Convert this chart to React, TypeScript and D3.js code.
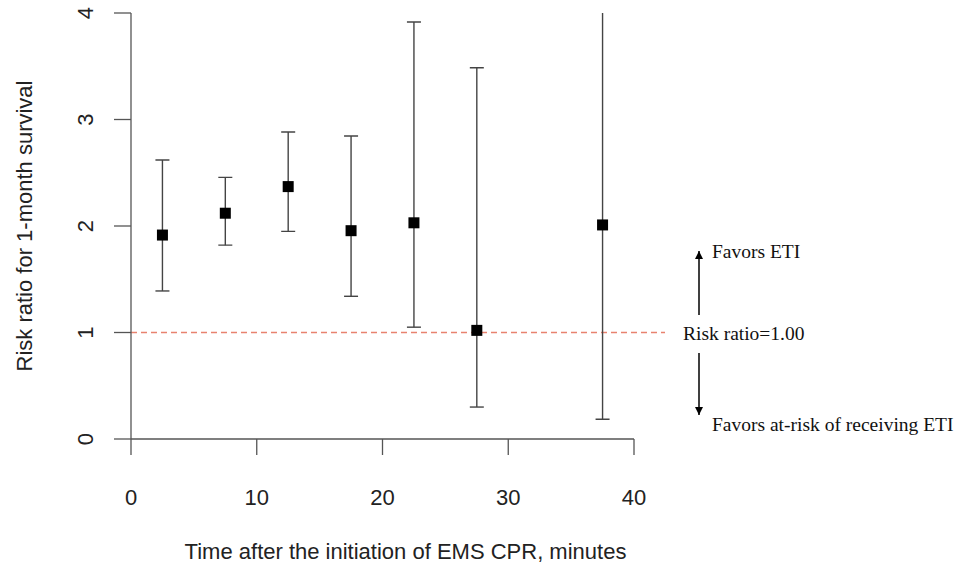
import React from "react";
import * as d3 from "d3";

// Risk ratio estimates with 95% confidence limits by time interval
const timePoints = [2.5, 7.5, 12.5, 17.5, 22.5, 27.5, 37.5];
const riskRatio = [1.915, 2.12, 2.37, 1.956, 2.03, 1.02, 2.01];
const lowerCI = [1.39, 1.82, 1.95, 1.34, 1.05, 0.3, 0.185];
const upperCI = [2.62, 2.457, 2.883, 2.845, 3.915, 3.486, 4.4];

const xTicks = [0, 10, 20, 30, 40];
const yTicks = [0, 1, 2, 3, 4];

const xTitle = "Time after the initiation of EMS CPR, minutes";
const yTitle = "Risk ratio for 1-month survival";
const refValue = 1;
const refLabel = "Risk ratio=1.00";
const upLabel = "Favors ETI";
const downLabel = "Favors at-risk of receiving ETI";

const W = 962;
const H = 569;

export default function App() {
  const x = d3.scaleLinear().domain([0, 40]).range([131, 634]);
  const y = d3.scaleLinear().domain([0, 4]).range([439, 13]);

  const axisColor = "#555";
  const barColor = "#444";
  const sans = "'Liberation Sans', Arial, sans-serif";
  const serif = "'Liberation Serif', 'Times New Roman', serif";
  const capHalf = 7;
  const sq = 11;

  const refEnd = x.invert(665);

  return (
    <svg
      width={W}
      height={H}
      style={{ position: "absolute", left: 0, top: 0, background: "#fff" }}
    >
      <defs>
        <clipPath id="plotArea">
          <rect x={x(0) - 20} y={y(4)} width={x(44) - x(0) + 20} height={y(0) - y(4) + 20} />
        </clipPath>
        <marker
          id="arrowHead"
          viewBox="0 0 10 10"
          refX="10"
          refY="5"
          markerWidth="9"
          markerHeight="8"
          markerUnits="userSpaceOnUse"
          orient="auto"
        >
          <path d="M0,0 L10,5 L0,10 Z" fill="#000" />
        </marker>
      </defs>

      {/* reference line at risk ratio 1 */}
      <line
        x1={x(0)}
        x2={x(refEnd)}
        y1={y(refValue)}
        y2={y(refValue)}
        stroke="#e8826f"
        strokeWidth={1.4}
        strokeDasharray="6 4"
      />

      {/* y axis */}
      <line x1={x(0)} x2={x(0)} y1={y(4)} y2={y(0)} stroke={axisColor} strokeWidth={1.3} />
      {yTicks.map((t) => (
        <g key={`yt${t}`}>
          <line x1={x(0) - 17} x2={x(0)} y1={y(t)} y2={y(t)} stroke={axisColor} strokeWidth={1.3} />
          <text
            transform={`translate(93,${y(t)}) rotate(-90)`}
            textAnchor="middle"
            fontFamily={sans}
            fontSize={22}
            fill="#222"
          >
            {t}
          </text>
        </g>
      ))}
      <text
        transform={`translate(32,${y(2)}) rotate(-90)`}
        textAnchor="middle"
        fontFamily={sans}
        fontSize={22}
        fill="#222"
      >
        {yTitle}
      </text>

      {/* x axis */}
      <line x1={x(0)} x2={x(40)} y1={y(0)} y2={y(0)} stroke={axisColor} strokeWidth={1.3} />
      {xTicks.map((t) => (
        <g key={`xt${t}`}>
          <line x1={x(t)} x2={x(t)} y1={y(0)} y2={y(0) + 16} stroke={axisColor} strokeWidth={1.3} />
          <text
            x={x(t)}
            y={505}
            textAnchor="middle"
            fontFamily={sans}
            fontSize={22}
            fill="#222"
          >
            {t}
          </text>
        </g>
      ))}
      <text
        x={(x(0) + x(40)) / 2 + 23}
        y={559}
        textAnchor="middle"
        fontFamily={sans}
        fontSize={22}
        fill="#222"
      >
        {xTitle}
      </text>

      {/* confidence intervals */}
      <g clipPath="url(#plotArea)">
        {timePoints.map((t, i) => (
          <g key={`ci${i}`} stroke={barColor} strokeWidth={1.4}>
            <line x1={x(t)} x2={x(t)} y1={y(lowerCI[i])} y2={y(upperCI[i])} />
            <line x1={x(t) - capHalf} x2={x(t) + capHalf} y1={y(lowerCI[i])} y2={y(lowerCI[i])} />
            <line x1={x(t) - capHalf} x2={x(t) + capHalf} y1={y(upperCI[i])} y2={y(upperCI[i])} />
          </g>
        ))}
      </g>

      {/* point estimates */}
      {timePoints.map((t, i) => (
        <rect
          key={`pt${i}`}
          x={x(t) - sq / 2}
          y={y(riskRatio[i]) - sq / 2}
          width={sq}
          height={sq}
          fill="#000"
        />
      ))}

      {/* interpretation arrows */}
      <line x1={699} x2={699} y1={315} y2={251} stroke="#000" strokeWidth={1.5} markerEnd="url(#arrowHead)" />
      <line x1={699} x2={699} y1={353} y2={415} stroke="#000" strokeWidth={1.5} markerEnd="url(#arrowHead)" />
      <text x={712} y={258} fontFamily={serif} fontSize={19.5} fill="#111">
        {upLabel}
      </text>
      <text x={683} y={340} fontFamily={serif} fontSize={19.5} fill="#111">
        {refLabel}
      </text>
      <text x={712} y={431} fontFamily={serif} fontSize={19.5} fill="#111">
        {downLabel}
      </text>
    </svg>
  );
}
